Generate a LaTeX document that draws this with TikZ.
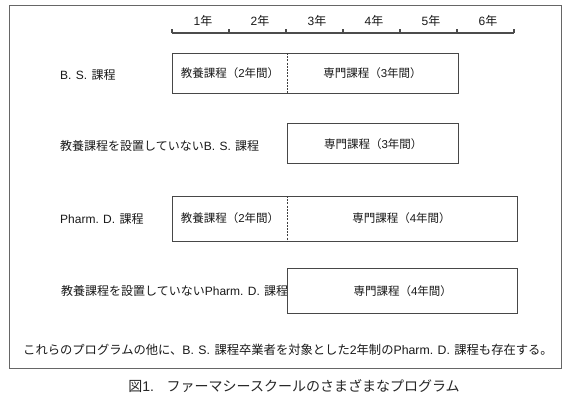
\documentclass[tikz,border=0pt]{standalone}
\usepackage{fontspec}
\setmainfont{Noto Sans CJK JP}
\newfontfamily\lat{Liberation Sans}
\newcommand{\gp}{\hspace{0.36em}}
\begin{document}
\begin{tikzpicture}[x=1pt,y=-1pt,
  frame/.style={draw=black!60, line width=0.7pt, inner sep=0pt, anchor=north west},
  box/.style={draw=black!72, line width=1.4pt, inner sep=0pt, anchor=north west},
  divider/.style={draw=black!75, line width=0.6pt, dash pattern=on 2pt off 1.2pt},
  scaleline/.style={draw=black!70, line width=1.6pt},
  txt/.style={font=\fontsize{12}{14}\selectfont, text=black!90, inner sep=0pt},
  notetxt/.style={font=\fontsize{12.3}{14}\selectfont, text=black!90, inner sep=0pt},
  boxtxt/.style={font=\fontsize{11.5}{14}\selectfont, text=black!90, inner sep=0pt},
  lbl/.style={txt, anchor=west},
  yr/.style={txt},
  captiontext/.style={font=\fontsize{14}{16}\selectfont, text=black!85, inner sep=0pt}]
\useasboundingbox (0,0) rectangle (580,400);
\fill[white] (0,0) rectangle (580,400);
% outer frame
\node[frame, minimum width=552pt, minimum height=363pt] (frm) at (9,5) {};
% year scale
\coordinate (s0) at (172,33);
\coordinate (s6) at (514,33);
\draw[scaleline] (s0) -- (s6);
\foreach \i in {0,...,6} {
  \coordinate (tk\i) at (172+57*\i,33);
  \draw[scaleline] (tk\i) -- ++(0,-4);
}
\foreach \i in {1,...,6} {
  \node[yr] (y\i) at (146+57*\i,21) {{\lat\i}年};
}
% row 1: B.S.
\node[lbl] (l1) at (60,75) {{\lat B.\gp S.\gp}課程};
\node[box, minimum width=286pt, minimum height=40pt] (b1) at (172,53) {};
\node[boxtxt] (b1a) at (230,73) {教養課程（{\lat 2}年間）};
\node[boxtxt] (b1b) at (372.5,73) {専門課程（{\lat 3}年間）};
\draw[divider] ([xshift=115pt]b1.north west) -- ([xshift=115pt]b1.south west);
% row 2
\node[lbl] (l2) at (60,146) {教養課程を設置していない{\lat B.\gp S.\gp}課程};
\node[box, minimum width=171pt, minimum height=40pt] (b2) at (287,123) {};
\node[boxtxt] (b2a) at (b2.center) {専門課程（{\lat 3}年間）};
% row 3: Pharm.D.
\node[lbl] (l3) at (60,219) {{\lat Pharm.\gp D.\gp}課程};
\node[box, minimum width=345pt, minimum height=45pt] (b3) at (172,196) {};
\node[boxtxt] (b3a) at (230,218.5) {教養課程（{\lat 2}年間）};
\node[boxtxt] (b3b) at (401.5,218.5) {専門課程（{\lat 4}年間）};
\draw[divider] ([xshift=115pt]b3.north west) -- ([xshift=115pt]b3.south west);
% row 4
\node[lbl] (l4) at (61,291) {教養課程を設置していない{\lat Pharm.\gp D.\gp}課程};
\node[box, minimum width=230pt, minimum height=45pt] (b4) at (287,268) {};
\node[boxtxt] (b4a) at (b4.center) {専門課程（{\lat 4}年間）};
% note
\node[notetxt] (note) at (288,350) {これらのプログラムの他に、{\lat B.\gp S.\gp}課程卒業者を対象とした{\lat 2}年制の{\lat Pharm.\gp D.\gp}課程も存在する。};
% caption
\node[captiontext] (caption) at (294,386) {図{\lat 1.}\hspace{0.9em}ファーマシースクールのさまざまなプログラム};
\end{tikzpicture}
\end{document}
